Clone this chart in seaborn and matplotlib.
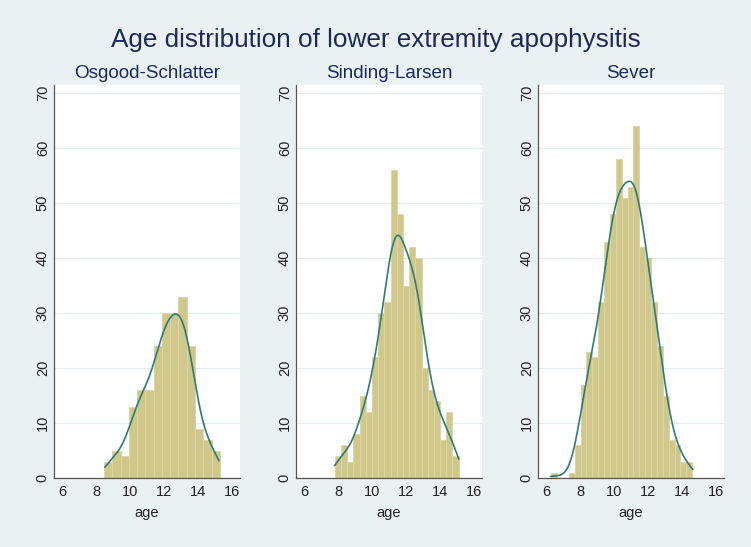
import numpy as np
import pandas as pd
import seaborn as sns
import matplotlib.pyplot as plt

# ---- data ----
panel_titles = ["Osgood-Schlatter", "Sinding-Larsen", "Sever"]

os_start, os_width = 8.46, 0.486
os_counts = [3, 5, 4, 13, 16, 16, 24, 30, 30, 33, 24, 9, 7, 5]

sl_start, sl_width = 7.80, 0.364
sl_counts = [4, 6, 3, 8, 15, 12, 22, 30, 32, 56, 48, 35, 42, 40, 20, 16, 14, 7, 12, 4]

sv_start, sv_width = 6.30, 0.345
sv_counts = [1, 0, 0, 1, 6, 17, 23, 22, 32, 43, 48, 58, 51, 53, 64, 42, 40, 32, 24, 15, 7, 6, 3, 3]

x_ticks = [6, 8, 10, 12, 14, 16]
y_ticks = [0, 10, 20, 30, 40, 50, 60, 70]
main_title = "Age distribution of lower extremity apophysitis"
x_label = "age"

# ---- style ----
BG = "#EAF1F3"
BAR = "#D0C78B"
BAR_EDGE = "#DDD7A8"
KDE = "#2C7C78"
NAVY = "#1C2A55"
AXC = "#555555"

sns.set_theme(style="white")
plt.rcParams['font.family'] = ['Liberation Sans', 'DejaVu Sans']

fig = plt.figure(figsize=(7.51, 5.47), dpi=100, facecolor=BG)
fig.text(0.5, 1 - 40 / 547, main_title, ha="center", va="center",
         fontsize=18.8, color=NAVY)

panels = [(os_start, os_width, os_counts),
          (sl_start, sl_width, sl_counts),
          (sv_start, sv_width, sv_counts)]
lefts = [54 / 751, 296 / 751, 538 / 751]

for i, (start, width, counts) in enumerate(panels):
    ax = fig.add_axes([lefts[i], 1 - 478 / 547, 186 / 751, (478 - 85) / 547])
    ax.set_facecolor("white")
    edges = [start + width * k for k in range(len(counts) + 1)]
    centers = [e + width / 2 for e in edges[:-1]]
    df = pd.DataFrame({"age": centers, "freq": counts})
    sns.histplot(data=df, x="age", weights="freq", bins=edges, stat="count",
                 kde=True, kde_kws={"cut": 0.3, "bw_adjust": 0.55},
                 color=BAR, alpha=1, edgecolor=BAR_EDGE, linewidth=0.7, ax=ax)
    ax.lines[-1].set_color(KDE)
    ax.lines[-1].set_linewidth(1.2)
    ax.set_xlim(5.52, 16.45)
    ax.set_ylim(0, 71.5)
    ax.set_xticks(x_ticks)
    ax.set_yticks(y_ticks)
    ax.set_yticklabels([str(v) for v in y_ticks], rotation=90, va="center")
    ax.set_ylabel("")
    ax.set_xlabel(x_label, fontsize=10.5, color="#222222", labelpad=5)
    ax.tick_params(axis="both", direction="out", length=3, width=0.8,
                   color=AXC, labelsize=10.5, labelcolor="#222222", pad=2)
    ax.tick_params(axis="y", pad=0)
    ax.grid(axis="y", color="#E3ECEF", linewidth=0.8)
    ax.set_axisbelow(True)
    for s in ["top", "right"]:
        ax.spines[s].set_visible(False)
    for s in ["left", "bottom"]:
        ax.spines[s].set_color(AXC)
        ax.spines[s].set_linewidth(0.9)
    ax.set_title(panel_titles[i], fontsize=13.6, color=NAVY, pad=5)

fig.savefig("out.png", dpi=100, facecolor=BG)
